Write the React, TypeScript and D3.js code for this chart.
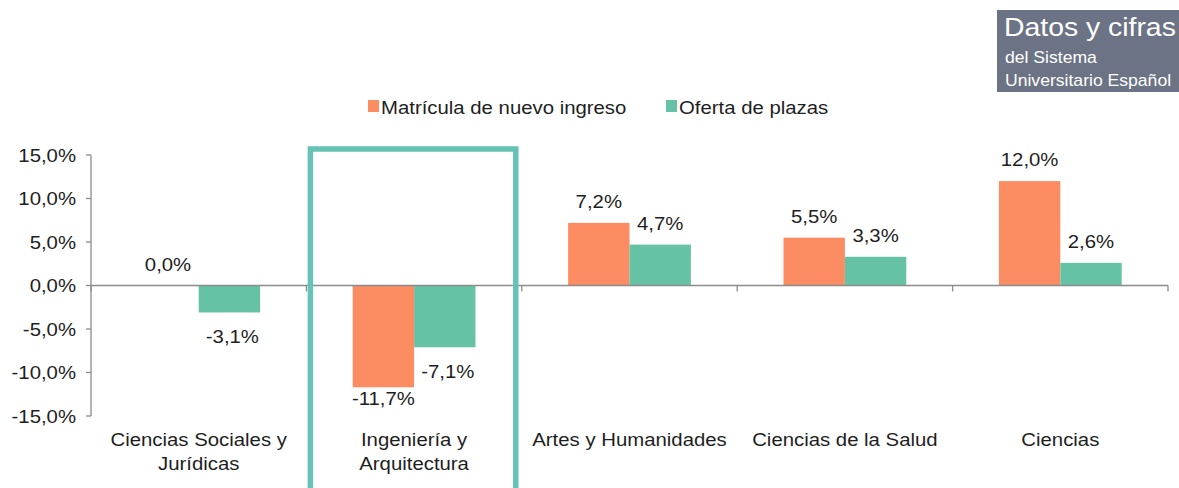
import React from "react";
import * as d3 from "d3";

const categories: string[][] = [
  ["Ciencias Sociales y", "Jurídicas"],
  ["Ingeniería y", "Arquitectura"],
  ["Artes y Humanidades"],
  ["Ciencias de la Salud"],
  ["Ciencias"],
];
const seriesNames = ["Matrícula de nuevo ingreso", "Oferta de plazas"];
const matricula = [0.0, -11.7, 7.2, 5.5, 12.0];
const oferta = [-3.1, -7.1, 4.7, 3.3, 2.6];
const yTicks = [15, 10, 5, 0, -5, -10, -15];
const highlighted = 1;

const W = 1179;
const H = 488;
const COLORS = ["#fc8d62", "#66c2a5"];
const FS = 18.5;
const SX = 1.1;
const TXT = "#1e1e1e";
const AXIS = "#8c8c8c";

const fmt = (v: number) => v.toFixed(1).replace(".", ",") + "%";

function T({ x, y, children, anchor = "middle", size = FS, fill = TXT }: any) {
  return (
    <g transform={`translate(${x},${y}) scale(${SX},1)`}>
      <text
        textAnchor={anchor}
        fontSize={size}
        fill={fill}
        fontFamily="'Liberation Sans', Arial, sans-serif"
      >
        {children}
      </text>
    </g>
  );
}

export default function App() {
  const x = d3.scaleBand<number>().domain(d3.range(categories.length)).range([91, 1168]).padding(0);
  const y = d3.scaleLinear().domain([-15, 15]).range([416, 155]);
  const bw = x.bandwidth() * 0.285;
  const inner = d3.scaleBand<number>().domain([0, 1]).range([-bw, bw]).padding(0);
  const series = [matricula, oferta];
  const y0 = y(0);

  const bars: any[] = [];
  const labels: any[] = [];
  series.forEach((vals, s) => {
    vals.forEach((v, i) => {
      const cx = x(i)! + x.bandwidth() / 2;
      const bx = cx + inner(s)!;
      const top = y(Math.max(0, v));
      const bot = y(Math.min(0, v));
      if (v !== 0) {
        bars.push(
          <rect key={`b${s}-${i}`} x={bx} y={top} width={inner.bandwidth()} height={bot - top} fill={COLORS[s]} />
        );
      }
      const lx = bx + inner.bandwidth() / 2 + (v < 0 && s === 1 ? 3 : 0);
      let ly;
      if (v >= 0) ly = top - 15;
      else if (v < -10) ly = bot + 18;
      else ly = bot + 31;
      labels.push(
        <T key={`l${s}-${i}`} x={lx} y={ly}>
          {fmt(v)}
        </T>
      );
    });
  });

  const boundaries = d3.range(categories.length + 1).map((i) =>
    i < categories.length ? x(i)! : x(categories.length - 1)! + x.bandwidth()
  );

  const hx0 = x(highlighted)! + 4;
  const hx1 = x(highlighted)! + x.bandwidth() - 6;

  return (
    <svg width={W} height={H} style={{ position: "absolute", left: 0, top: 0, background: "#fff" }}>
      {/* badge */}
      <rect x={997} y={10} width={W - 997} height={82} fill="#6b7385" />
      <T x={1004} y={36} anchor="start" size={25.8} fill="#fff">Datos y cifras</T>
      <T x={1005} y={63} anchor="start" size={16} fill="#fff">del Sistema</T>
      <T x={1005} y={86} anchor="start" size={16} fill="#fff">Universitario Español</T>

      {/* legend */}
      {seriesNames.map((n, s) => {
        const lx = s === 0 ? 368 : 666;
        return (
          <g key={n}>
            <rect x={lx} y={100} width={11} height={12} fill={COLORS[s]} />
            <T x={lx + 13} y={114} anchor="start">{n}</T>
          </g>
        );
      })}

      {/* y axis */}
      <line x1={91} x2={91} y1={y(15)} y2={y(-15)} stroke={AXIS} strokeWidth={1.3} />
      {yTicks.map((t) => (
        <g key={t}>
          <line x1={86} x2={91} y1={y(t)} y2={y(t)} stroke={AXIS} strokeWidth={1.3} />
          <T x={76} y={y(t) + 6.5} anchor="end">{fmt(t)}</T>
        </g>
      ))}

      {bars}

      {/* zero axis */}
      <line x1={91} x2={boundaries[boundaries.length - 1]} y1={y0} y2={y0} stroke={AXIS} strokeWidth={1.5} />
      {boundaries.map((b, i) => (
        <line key={i} x1={b} x2={b} y1={y0} y2={y0 + 6} stroke={AXIS} strokeWidth={1.3} />
      ))}

      {labels}

      {/* category labels */}
      {categories.map((lines, i) => (
        <g key={i}>
          {lines.map((ln, j) => (
            <T key={j} x={x(i)! + x.bandwidth() / 2} y={446 + j * 24}>{ln}</T>
          ))}
        </g>
      ))}

      {/* highlight box */}
      <path
        d={`M${hx0},${H + 5} V149 H${hx1} V${H + 5}`}
        fill="none"
        stroke="#66c2b4"
        strokeWidth={5.5}
      />
    </svg>
  );
}
